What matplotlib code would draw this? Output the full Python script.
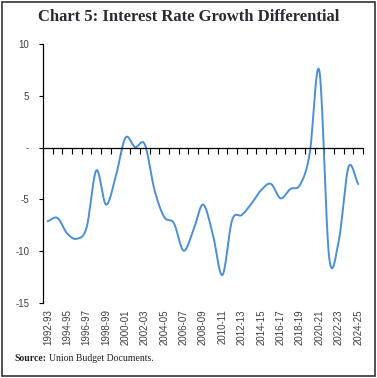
import numpy as np
import matplotlib
matplotlib.use("Agg")
import matplotlib.pyplot as plt
from matplotlib.patches import Rectangle
import matplotlib.transforms as mtransforms

years = ["1992-93", "1993-94", "1994-95", "1995-96", "1996-97", "1997-98", "1998-99",
         "1999-00", "2000-01", "2001-02", "2002-03", "2003-04", "2004-05", "2005-06",
         "2006-07", "2007-08", "2008-09", "2009-10", "2010-11", "2011-12", "2012-13",
         "2013-14", "2014-15", "2015-16", "2016-17", "2017-18", "2018-19", "2019-20",
         "2020-21", "2021-22", "2022-23", "2023-24", "2024-25"]
values = [-7.1, -6.8, -8.3, -8.8, -7.7, -2.2, -5.5,
          -2.8, 0.95, 0.05, 0.3, -4.1, -6.7, -7.3,
          -9.95, -8.0, -5.5, -8.3, -12.3, -7.0, -6.5,
          -5.4, -4.1, -3.5, -4.9, -4.0, -3.6, -0.6,
          7.4, -10.5, -9.0, -1.9, -3.5]
yticks = [10, 5, 0, -5, -10, -15]
ytick_labels = ["10", "5", "-", "-5", "-10", "-15"]

def smooth(x, y, n=20):
    x = np.asarray(x, float); y = np.asarray(y, float)
    px = np.concatenate([[2*x[0]-x[1]], x, [2*x[-1]-x[-2]]])
    py = np.concatenate([[2*y[0]-y[1]], y, [2*y[-1]-y[-2]]])
    xs, ys = [], []
    t = np.linspace(0, 1, n, endpoint=False)
    for i in range(1, len(px)-2):
        for arr, out in ((px, xs), (py, ys)):
            p0, p1, p2, p3 = arr[i-1], arr[i], arr[i+1], arr[i+2]
            out.extend(0.5*((2*p1) + (-p0+p2)*t + (2*p0-5*p1+4*p2-p3)*t**2
                            + (-p0+3*p1-3*p2+p3)*t**3))
    xs.append(x[-1]); ys.append(y[-1])
    return np.array(xs), np.array(ys)

fig = plt.figure(figsize=(3.77, 3.78), dpi=100)
fig.patches.append(Rectangle((0.006, 0.006), 0.988, 0.988, transform=fig.transFigure,
                             fill=False, edgecolor="#333333", linewidth=1.2))
fig.text(0.5, 0.955, "Chart 5: Interest Rate Growth Differential", ha="center", va="center",
         fontsize=12, fontweight="bold", family="Liberation Serif", color="#2a2a35")

ax = fig.add_axes([43/377, 1-303/378, 320/377, 259/378])
xpos = np.arange(len(years))
sx, sy = smooth(xpos, values)
ax.plot(sx, sy, color="#4a8fd8", linewidth=1.4)

ax.set_xlim(-0.5, len(years)-0.5)
ax.set_ylim(-15, 10)
ax.set_yticks(yticks)
ax.set_yticklabels(ytick_labels, family="Liberation Sans", fontsize=7, color="#404040")
ax.tick_params(axis="y", direction="out", length=3, width=0.8, pad=7)

for s in ["top", "right"]:
    ax.spines[s].set_visible(False)
ax.spines["left"].set_linewidth(0.9)
ax.spines["bottom"].set_position(("data", 0))
ax.spines["bottom"].set_linewidth(0.9)
ax.set_xticks(np.arange(-0.5, len(years)))
ax.set_xticklabels([])
ax.tick_params(axis="x", direction="out", length=4, width=0.8)

trans = mtransforms.blended_transform_factory(ax.transData, ax.transAxes)
for i, lab in enumerate(years):
    if i % 2 == 0:
        ax.text(i, -0.025, lab, transform=trans, rotation=90, ha="center", va="top",
                family="Liberation Sans", fontsize=7, color="#404040")

t1 = fig.text(0.038, 0.052, "Source:", fontsize=7, fontweight="bold", family="Liberation Serif",
              va="center", ha="left", color="#222222")
fig.canvas.draw()
bb = t1.get_window_extent(renderer=fig.canvas.get_renderer())
x_end = fig.transFigure.inverted().transform((bb.x1 + 3, 0))[0]
fig.text(x_end, 0.052, "Union Budget Documents.", fontsize=7, family="Liberation Serif",
         va="center", ha="left", color="#222222")

fig.savefig("out.png", dpi=100)
